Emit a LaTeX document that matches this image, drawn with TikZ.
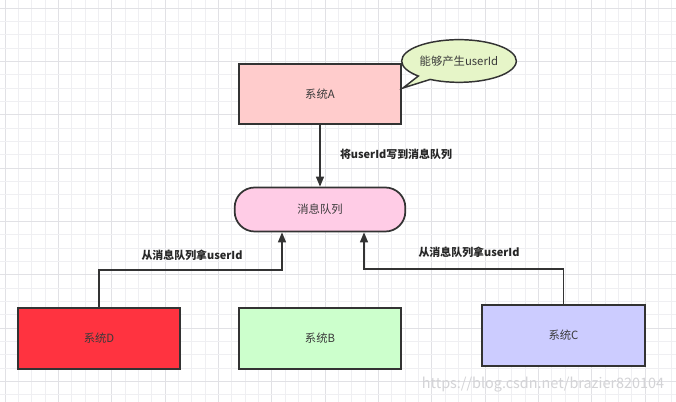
\documentclass[tikz,border=0pt]{standalone}
\usepackage{fontspec}
\setmainfont{Noto Sans CJK SC}
\usetikzlibrary{arrows.meta}
\usetikzlibrary{shapes.callouts}
\usetikzlibrary{positioning}
\definecolor{GridLight}{HTML}{EFEFF2}
\definecolor{GridDark}{HTML}{E1E1E5}
\definecolor{EdgeGrey}{HTML}{333333}
\definecolor{TextGrey}{HTML}{3A3A3A}
\definecolor{FillA}{HTML}{FFCCCC}
\definecolor{FillB}{HTML}{CCFFCC}
\definecolor{FillC}{HTML}{CCCCFF}
\definecolor{FillD}{HTML}{FF3340}
\definecolor{FillQueue}{HTML}{FFCCE6}
\definecolor{FillNote}{HTML}{E6F5C8}
\definecolor{MarkGrey}{HTML}{D3D3D6}
\tikzset{
  sysbox/.style={draw=EdgeGrey, line width=1.3pt, rectangle,
    minimum width=122pt, minimum height=45.5pt, inner sep=0pt,
    font=\fontsize{8.5}{10}\selectfont, text=TextGrey},
  flow/.style={draw=EdgeGrey, line width=1.1pt,
    -{Triangle[length=7.5pt,width=6pt]}},
  flowlabel/.style={font=\bfseries\fontsize{8.2}{9.5}\selectfont, text=black!85},
}

\begin{document}
\begin{tikzpicture}[x=0.75pt, y=-0.75pt]
  \useasboundingbox (0,0) rectangle (676,402);
  \fill[white] (0,0) rectangle (676,402);

  % background grid
  \foreach \i in {0,...,50}{%
    \pgfmathtruncatemacro{\m}{mod(\i,4)}
    \ifnum\m=0
      \draw[GridDark, line width=0.6pt] (5+\i*13.333,0) -- (5+\i*13.333,402);
    \else
      \draw[GridLight, line width=0.5pt] (5+\i*13.333,0) -- (5+\i*13.333,402);
    \fi
  }
  \foreach \j in {0,...,30}{%
    \pgfmathtruncatemacro{\m}{mod(\j,4)}
    \ifnum\m=0
      \draw[GridDark, line width=0.6pt] (0,8+\j*13.333) -- (676,8+\j*13.333);
    \else
      \draw[GridLight, line width=0.5pt] (0,8+\j*13.333) -- (676,8+\j*13.333);
    \fi
  }

  % systems and queue
  \node[sysbox, fill=FillA] (sysA) at (320,94) {系统A};
  \node[draw=EdgeGrey, line width=1.3pt, fill=FillQueue, rounded corners=15pt,
    minimum width=128pt, minimum height=33pt, inner sep=0pt,
    font=\fontsize{8.5}{10}\selectfont, text=TextGrey] (queue) at (320,209.5) {消息队列};
  \node[sysbox, fill=FillD] (sysD) at (99,338.5) {系统D};
  \node[sysbox, fill=FillB] (sysB) at (320,338.5) {系统B};
  \node[sysbox, fill=FillC] (sysC) at (563.5,335.5) {系统C};

  % note
  \node[ellipse callout, draw=EdgeGrey, line width=1.1pt, fill=FillNote,
    minimum width=86pt, minimum height=32pt, inner sep=0pt,
    callout absolute pointer={(403,88)},
    font=\fontsize{8.5}{10}\selectfont, text=TextGrey] (note) at (459,61) {能够产生userId};

  % connectors
  \draw[flow] (sysA.south) -- (queue.north);
  \node[flowlabel] (lblA) at (396,154) {将userId写到消息队列};

  \coordinate (bendD) at (282,270);
  \draw[flow] (sysD.north) |- (bendD) -- (bendD |- queue.south);
  \node[flowlabel] (lblD) at (192,255) {从消息队列拿userId};

  \coordinate (bendC) at (364,269);
  \draw[flow] (sysC.north) |- (bendC) -- (bendC |- queue.south);
  \node[flowlabel] (lblC) at (469,252) {从消息队列拿userId};

  \node[text=MarkGrey, font=\fontsize{10.8}{12}\selectfont] (mark) at (543,385)
    {https://blog.csdn.net/brazier820104};
\end{tikzpicture}
\end{document}
